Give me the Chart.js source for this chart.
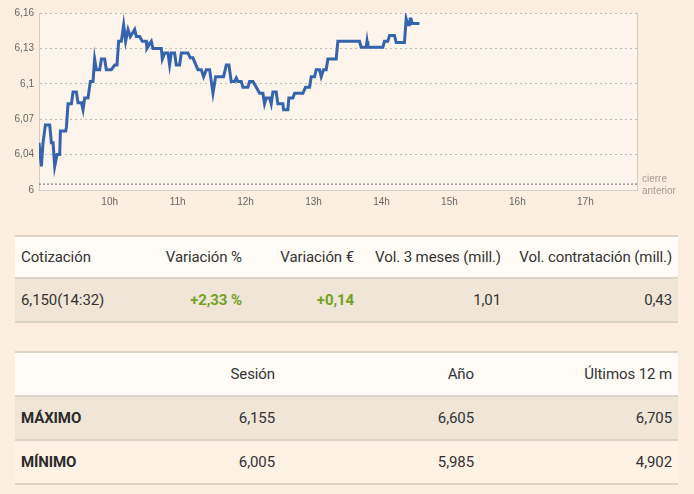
<!DOCTYPE html>
<html>
<head>
<meta charset="utf-8">
<script src="https://cdn.jsdelivr.net/npm/chart.js@4/dist/chart.umd.min.js"></script>
<style>
  html, body { margin: 0; padding: 0; }
  body { width: 694px; height: 494px; background: #fcefdf; position: relative; overflow: hidden;
         font-family: Roboto, "Noto Sans", sans-serif; color: #333; }
  #wrap { position: absolute; left: 0; top: 0; width: 694px; height: 212px; }
  .tbl { position: absolute; left: 15px; width: 663px; border-top: 2px solid #ddd4c7; }
  .row { display: flex; border-bottom: 2px solid #ddd4c7; font-size: 15px; letter-spacing: -0.1px; }
  .row div { box-sizing: border-box; text-align: right; padding-right: 6px; white-space: nowrap; }
  .row div:first-child { text-align: left; padding-left: 6px; }
  .head { background: #fffcf7; height: 40px; line-height: 40px; }
  .dark { background: #efe6d8; height: 42px; line-height: 42px; }
  .light { background: #fdf2e4; height: 42px; line-height: 42px; }
  .up { color: #74a024; font-weight: 700; }
  .b { font-weight: 700; color: #2b2b2b; }
</style>
</head>
<body>
<div id="wrap"><canvas id="grafico" width="694" height="212"></canvas></div>

<div class="tbl" style="top:235px">
  <div class="row head">
    <div style="width:125px">Cotización</div>
    <div style="width:108px">Variación %</div>
    <div style="width:112px">Variación €</div>
    <div style="width:147px">Vol. 3 meses (mill.)</div>
    <div style="width:171px">Vol. contratación (mill.)</div>
  </div>
  <div class="row dark">
    <div style="width:125px">6,150(14:32)</div>
    <div style="width:108px" class="up">+2,33 %</div>
    <div style="width:112px" class="up">+0,14</div>
    <div style="width:147px">1,01</div>
    <div style="width:171px">0,43</div>
  </div>
</div>

<div class="tbl" style="top:351px">
  <div class="row head" style="height:42px;line-height:42px">
    <div style="width:135px"></div>
    <div style="width:131px">Sesión</div>
    <div style="width:199px">Año</div>
    <div style="width:198px">Últimos 12 m</div>
  </div>
  <div class="row dark">
    <div style="width:135px" class="b">MÁXIMO</div>
    <div style="width:131px">6,155</div>
    <div style="width:199px">6,605</div>
    <div style="width:198px">6,705</div>
  </div>
  <div class="row light">
    <div style="width:135px" class="b">MÍNIMO</div>
    <div style="width:131px">6,005</div>
    <div style="width:199px">5,985</div>
    <div style="width:198px">4,902</div>
  </div>
</div>

<script>
// hora (decimal) y cotización de la sesión
const horas = [
  8.96, 8.995, 9.019, 9.054, 9.118, 9.142, 9.167, 9.191, 9.225, 9.265,
  9.275, 9.353, 9.363, 9.387, 9.437, 9.461, 9.51, 9.534, 9.584, 9.608,
  9.632, 9.681, 9.716, 9.755, 9.779, 9.804, 9.853, 9.878, 9.926, 9.951,
  10.025, 10.074, 10.108, 10.132, 10.172, 10.206, 10.235, 10.27, 10.304, 10.368,
  10.392, 10.441, 10.48, 10.539, 10.549, 10.613, 10.637, 10.76, 10.775, 10.809,
  10.858, 10.882, 10.907, 10.956, 10.98, 11.029, 11.054, 11.152, 11.186, 11.225,
  11.299, 11.348, 11.382, 11.422, 11.471, 11.52, 11.559, 11.676, 11.716, 11.755,
  11.789, 11.838, 11.863, 11.887, 11.936, 11.961, 12.034, 12.059, 12.108, 12.157,
  12.206, 12.255, 12.279, 12.304, 12.353, 12.377, 12.402, 12.451, 12.475, 12.549,
  12.559, 12.622, 12.637, 12.696, 12.721, 12.843, 12.882, 12.941, 12.966, 13.015,
  13.039, 13.088, 13.113, 13.147, 13.186, 13.211, 13.333, 13.358, 13.676, 13.701,
  13.775, 13.787, 13.799, 13.848, 14.02, 14.044, 14.093, 14.118, 14.191, 14.216,
  14.338, 14.363, 14.387, 14.412, 14.422, 14.436, 14.451, 14.559
];
const precios = [
  6.045, 6.025, 6.045, 6.060, 6.060, 6.045, 6.045, 6.025, 6.035, 6.035,
  6.055, 6.055, 6.058, 6.078, 6.078, 6.088, 6.088, 6.079, 6.079, 6.073,
  6.083, 6.083, 6.097, 6.097, 6.116, 6.107, 6.107, 6.116, 6.116, 6.107,
  6.107, 6.111, 6.111, 6.131, 6.131, 6.145, 6.131, 6.141, 6.135, 6.141,
  6.135, 6.135, 6.131, 6.131, 6.125, 6.131, 6.125, 6.125, 6.116, 6.121,
  6.121, 6.111, 6.121, 6.121, 6.111, 6.111, 6.121, 6.121, 6.117, 6.117,
  6.107, 6.107, 6.101, 6.107, 6.107, 6.087, 6.101, 6.101, 6.111, 6.111,
  6.097, 6.097, 6.100, 6.097, 6.097, 6.092, 6.092, 6.097, 6.097, 6.092,
  6.087, 6.087, 6.078, 6.083, 6.083, 6.078, 6.088, 6.088, 6.078, 6.078,
  6.073, 6.073, 6.083, 6.083, 6.087, 6.087, 6.092, 6.092, 6.101, 6.101,
  6.107, 6.107, 6.101, 6.107, 6.107, 6.116, 6.116, 6.131, 6.131, 6.126,
  6.126, 6.131, 6.126, 6.126, 6.126, 6.131, 6.131, 6.136, 6.136, 6.130,
  6.130, 6.150, 6.145, 6.145, 6.150, 6.150, 6.146, 6.146
];

const cierreAnterior = 6.01;
const horaInicio = 8.96;
const horaFin = 17.76;

const ticksHoras = [10, 11, 12, 13, 14, 15, 16, 17];
const ticksPrecio = [6.005, 6.035, 6.065, 6.095, 6.125, 6.155];
const etiquetasPrecio = ['6', '6,04', '6,07', '6,1', '6,13', '6,16'];

const serie = horas.map((h, i) => ({ x: h, y: precios[i] }));

// fondo del area, borde derecho y texto "cierre anterior"
const extras = {
  id: 'extras',
  beforeDraw(chart) {
    const a = chart.chartArea, ctx = chart.ctx;
    ctx.save();
    ctx.fillStyle = '#fdf5eb';
    ctx.fillRect(a.left, a.top, a.right - a.left, a.bottom - a.top);
    ctx.restore();
  },
  afterDraw(chart) {
    const a = chart.chartArea, ctx = chart.ctx;
    const y = chart.scales.y.getPixelForValue(cierreAnterior);
    ctx.save();
    ctx.strokeStyle = '#d6cdc2';
    ctx.lineWidth = 1;
    ctx.beginPath();
    ctx.moveTo(a.right + 0.5, a.top);
    ctx.lineTo(a.right + 0.5, a.bottom);
    ctx.stroke();
    ctx.fillStyle = '#a29b93';
    ctx.font = '10px "Liberation Sans", Arial, sans-serif';
    ctx.textBaseline = 'middle';
    ctx.fillText('cierre', a.right + 5, y - 5);
    ctx.fillText('anterior', a.right + 5, y + 7);
    ctx.restore();
  }
};

const ctx = document.getElementById('grafico').getContext('2d');

new Chart(ctx, {
  type: 'line',
  data: {
    datasets: [{
      data: serie,
      borderColor: '#3564ae',
      borderWidth: 3,
      pointRadius: 0,
      tension: 0,
      fill: false
    }, {
      data: [{ x: horaInicio, y: cierreAnterior }, { x: horaFin, y: cierreAnterior }],
      borderColor: '#6d6862',
      borderWidth: 1,
      borderDash: [2, 2],
      pointRadius: 0,
      fill: false
    }]
  },
  options: {
    responsive: false,
    animation: false,
    events: [],
    layout: { padding: { top: 13, right: 57, left: 0, bottom: 0 } },
    plugins: { legend: { display: false }, tooltip: { enabled: false } },
    scales: {
      x: {
        type: 'linear',
        min: horaInicio,
        max: horaFin,
        afterBuildTicks: axis => { axis.ticks = ticksHoras.map(v => ({ value: v })); },
        afterFit: scale => { scale.height = 22; },
        grid: { display: false, drawTicks: false },
        border: { display: true, color: '#d6cdc2', width: 1 },
        ticks: {
          padding: 6,
          maxRotation: 0,
          autoSkip: false,
          color: '#666',
          font: { family: '"Liberation Sans", Arial, sans-serif', size: 10 },
          callback: v => v + 'h'
        }
      },
      y: {
        min: ticksPrecio[0],
        max: ticksPrecio[ticksPrecio.length - 1],
        afterBuildTicks: axis => { axis.ticks = ticksPrecio.map(v => ({ value: v })); },
        afterFit: scale => { scale.width = 39; },
        grid: { color: '#c4bcb2', lineWidth: 1, drawTicks: false },
        border: { display: true, color: '#d6cdc2', width: 1, dash: [2, 3] },
        ticks: {
          padding: 5,
          color: '#666',
          font: { family: '"Liberation Sans", Arial, sans-serif', size: 10 },
          callback: (v, i) => etiquetasPrecio[i]
        }
      }
    }
  },
  plugins: [extras]
});
</script>
</body>
</html>
